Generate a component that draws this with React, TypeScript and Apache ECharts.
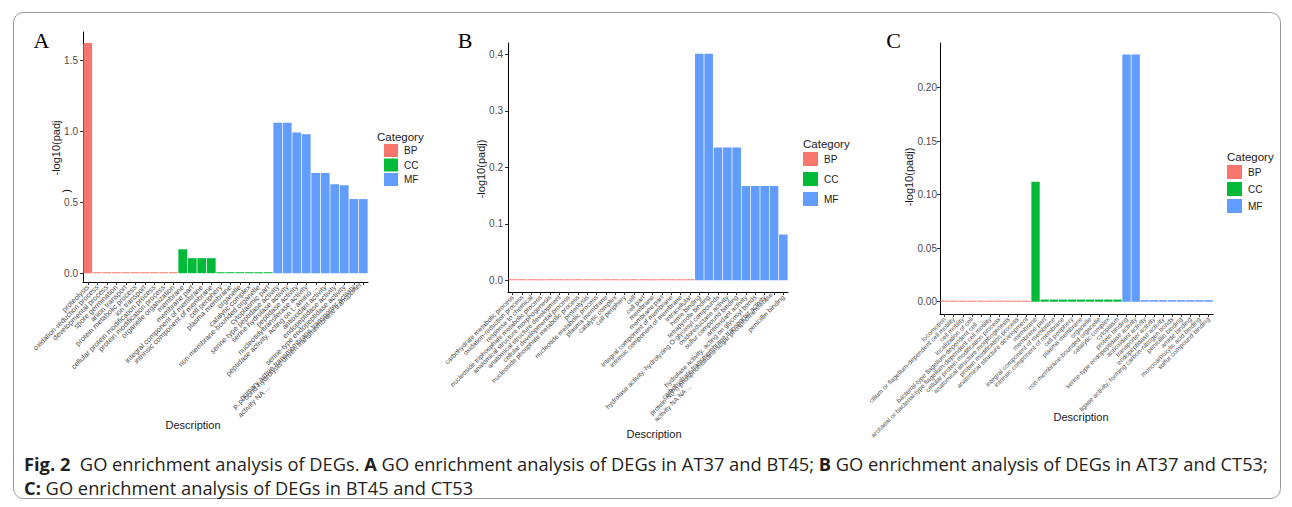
import React, { useEffect, useRef } from "react";
import * as echarts from "echarts";

const COLORS = { BP: "#F8766D", CC: "#00BA38", MF: "#619CFF" };
const GROUP_NAMES = ["BP", "CC", "MF"];

// Panel A
const labelsA = [
  "proteolysis",
  "oxidation-reduction process",
  "developmental process",
  "spore germination",
  "anion transport",
  "protein metabolic process",
  "ion transport",
  "cellular protein modification process",
  "protein modification process",
  "organelle organization",
  "membrane",
  "membrane part",
  "integral component of membrane",
  "intrinsic component of membrane",
  "cell periphery",
  "plasma membrane",
  "organelle",
  "catalytic complex",
  "non-membrane-bounded organelle",
  "cytoplasmic part",
  "serine-type peptidase activity",
  "serine hydrolase activity",
  "peptidase activity",
  "nucleotidyltransferase activity",
  "peptidase activity, acting on L-amino ...",
  "antioxidant activity",
  "endopeptidase activity",
  "serine-type endopeptidase activity",
  "primary active transmembrane transporter activity",
  "P-P-bond-hydrolysis-driven transmembrane transporter\nactivity NA ...",
];
const valuesA = [
  1.624, 0, 0, 0, 0, 0, 0, 0, 0, 0,
  0.169, 0.106, 0.106, 0.106, 0, 0, 0, 0, 0, 0,
  1.061, 1.061, 0.993, 0.981, 0.707, 0.707, 0.627, 0.62, 0.523, 0.523,
];
const groupsA = [
  "BP", "BP", "BP", "BP", "BP", "BP", "BP", "BP", "BP", "BP",
  "CC", "CC", "CC", "CC", "CC", "CC", "CC", "CC", "CC", "CC",
  "MF", "MF", "MF", "MF", "MF", "MF", "MF", "MF", "MF", "MF",
];
const ticksA = [0, 0.5, 1.0, 1.5];

// Panel B
const labelsB = [
  "carbohydrate metabolic process",
  "oxidation-reduction process",
  "response to chemical",
  "nucleoside triphosphate metabolic process",
  "anatomical structure morphogenesis",
  "anatomical structure development",
  "cellular developmental process",
  "nucleoside phosphate metabolic process",
  "proteolysis",
  "nucleotide metabolic process",
  "plasma membrane",
  "catalytic complex",
  "cell periphery",
  "cell",
  "cell part",
  "membrane",
  "membrane part",
  "integral component of membrane",
  "intrinsic component of membrane",
  "intracellular",
  "heme binding",
  "tetrapyrrole binding",
  "hydrolase activity, hydrolyzing O-glycosyl compounds",
  "oxidoreductase activity",
  "sulfur compound binding",
  "antioxidant activity",
  "hydrolase activity, acting on glycosyl bonds",
  "carbohydrate transmembrane transporter activity",
  "protein-N(PI)-phosphohistidine-sugar phosphotransferase\nactivity NA NA ...",
  "penicillin binding",
];
const valuesB = [
  0, 0, 0, 0, 0, 0, 0, 0, 0, 0,
  0, 0, 0, 0, 0, 0, 0, 0, 0, 0,
  0.401, 0.401, 0.235, 0.235, 0.235, 0.167, 0.167, 0.167, 0.167, 0.081,
];
const groupsB = [
  "BP", "BP", "BP", "BP", "BP", "BP", "BP", "BP", "BP", "BP",
  "BP", "BP", "BP", "BP", "BP", "BP", "BP", "BP", "BP", "BP",
  "MF", "MF", "MF", "MF", "MF", "MF", "MF", "MF", "MF", "MF",
];
const ticksB = [0, 0.1, 0.2, 0.3, 0.4];

// Panel C
const labelsC = [
  "locomotion",
  "cilium or flagellum-dependent cell motility",
  "cell motility",
  "localization of cell",
  "bacterial-type flagellum-dependent cell ...",
  "archaeal or bacterial-type flagellum-dependent cell motility",
  "cellular protein modification process",
  "anatomical structure morphogenesis",
  "protein modification process",
  "anatomical structure development",
  "membrane",
  "membrane part",
  "integral component of membrane",
  "intrinsic component of membrane",
  "cell periphery",
  "plasma membrane",
  "organelle",
  "non-membrane-bounded organelle",
  "catalytic complex",
  "cytoplasm",
  "protein binding",
  "serine-type endopeptidase activity",
  "antioxidant activity",
  "transporter activity",
  "endopeptidase activity",
  "ligase activity, forming carbon-nitrogen bonds",
  "penicillin binding",
  "amide binding",
  "monocarboxylic acid binding",
  "sulfur compound binding",
];
const valuesC = [
  0, 0, 0, 0, 0, 0, 0, 0, 0, 0,
  0.112, 0.002, 0.002, 0.002, 0.002, 0.002, 0.002, 0.002, 0.002, 0.002,
  0.231, 0.231, 0.0015, 0.0015, 0.0015, 0.0015, 0.0015, 0.0015, 0.0015, 0.0015,
];
const groupsC = [
  "BP", "BP", "BP", "BP", "BP", "BP", "BP", "BP", "BP", "BP",
  "CC", "CC", "CC", "CC", "CC", "CC", "CC", "CC", "CC", "CC",
  "MF", "MF", "MF", "MF", "MF", "MF", "MF", "MF", "MF", "MF",
];
const ticksC = [0, 0.05, 0.1, 0.15, 0.2];

// Caption (bold flag marks bold pieces)
const captionLine1 = [
  ["Fig. 2", 1], ["  GO enrichment analysis of DEGs. ", 0],
  ["A", 1], [" GO enrichment analysis of DEGs in AT37 and BT45; ", 0],
  ["B", 1], [" GO enrichment analysis of DEGs in AT37 and CT53;", 0],
] as [string, number][];
const captionLine2 = [
  ["C:", 1], [" GO enrichment analysis of DEGs in BT45 and CT53", 0],
] as [string, number][];

const SANS = "Liberation Sans, Arial, sans-serif";
const CAP_FONT = "Open Sans";

export default function App() {
  const ref = useRef<HTMLDivElement>(null);

  useEffect(() => {
    if (!ref.current) return;
    const chart = echarts.init(ref.current, null, { renderer: "svg" });

    const ctx = document.createElement("canvas").getContext("2d") as CanvasRenderingContext2D;
    const measure = (s: string, font: string) => {
      ctx.font = font;
      return ctx.measureText(s).width;
    };

    const panels = [
      { labels: labelsA, values: valuesA, groups: groupsA, ticks: ticksA, dec: 1, fs: 7.3,
        grid: { left: 83, top: 32, width: 285, height: 250 }, min: -0.062, max: 1.702, margin: 5 },
      { labels: labelsB, values: valuesB, groups: groupsB, ticks: ticksB, dec: 1, fs: 6.7,
        grid: { left: 508, top: 43, width: 280, height: 249 }, min: -0.0207, max: 0.42, margin: 5 },
      { labels: labelsC, values: valuesC, groups: groupsC, ticks: ticksC, dec: 2, fs: 6.5,
        grid: { left: 940, top: 43, width: 273, height: 271 }, min: -0.0115, max: 0.2418, margin: 3 },
    ];

    const grid: any[] = [];
    const xAxis: any[] = [];
    const yAxis: any[] = [];
    const series: any[] = [];

    panels.forEach((p, pi) => {
      grid.push({ ...p.grid, containLabel: false });
      let wrapW = 0;
      p.labels.forEach((l) => {
        const parts = l.split("\n");
        if (parts.length > 1) wrapW = Math.max(wrapW, measure(parts[0], `${p.fs}px "Liberation Sans"`));
      });
      xAxis.push({
        type: "category",
        gridIndex: pi,
        data: p.labels,
        boundaryGap: true,
        axisLine: { onZero: false, lineStyle: { color: "#000", width: 1 } },
        axisTick: { show: true, alignWithLabel: true, length: 3, lineStyle: { color: "#333" } },
        axisLabel: {
          interval: 0,
          rotate: 45,
          fontSize: p.fs,
          lineHeight: p.fs + 0.8,
          color: "#4d4d4d",
          fontFamily: SANS,
          margin: 4,
          formatter: (v: string) => {
            const parts = v.split("\n");
            if (parts.length < 2) return v;
            return `${parts[0]}\n{l|${parts[1]}}`;
          },
          rich: {
            l: {
              width: Math.ceil(wrapW) + 1,
              align: "left",
              fontSize: p.fs,
              lineHeight: p.fs + 0.8,
              color: "#4d4d4d",
              fontFamily: SANS,
            },
          },
        },
        splitLine: { show: false },
      });
      yAxis.push({
        type: "value",
        gridIndex: pi,
        min: p.min,
        max: p.max,
        axisLine: { show: true, lineStyle: { color: "#000", width: 1 } },
        axisTick: { show: true, length: 3, lineStyle: { color: "#333" }, customValues: p.ticks },
        axisLabel: {
          customValues: p.ticks,
          formatter: (v: number) => v.toFixed(p.dec),
          fontSize: 10,
          color: "#4d4d4d",
          fontFamily: SANS,
          margin: p.margin,
        },
        splitLine: { show: false },
      });
      GROUP_NAMES.forEach((g) => {
        series.push({
          name: g,
          type: "bar",
          xAxisIndex: pi,
          yAxisIndex: pi,
          data: p.values.map((v, i) => (p.groups[i] === g ? v : "-")),
          barGap: "-100%",
          barCategoryGap: "8%",
          barMinHeight: 1,
          itemStyle: { color: (COLORS as any)[g] },
          emphasis: { disabled: true },
        });
      });
    });

    const legendBase = {
      orient: "vertical",
      data: GROUP_NAMES,
      icon: "rect",
      padding: 0,
      selectedMode: false,
      textStyle: { fontSize: 10, color: "#1a1a1a", fontFamily: SANS, padding: [0, 0, 0, 1] },
    };
    const legend = [
      { ...legendBase, left: 384, top: 144, itemWidth: 14, itemHeight: 13, itemGap: 1.5 },
      { ...legendBase, left: 803, top: 152, itemWidth: 15, itemHeight: 14, itemGap: 6 },
      { ...legendBase, left: 1227, top: 165, itemWidth: 15, itemHeight: 14, itemGap: 3 },
    ];

    const txt = (x: number, y: number, text: string, extra: any = {}, rotation = 0) => ({
      type: "text",
      x,
      y,
      rotation,
      style: {
        text,
        fontFamily: SANS,
        fontSize: 11,
        fill: "#1a1a1a",
        align: "center",
        verticalAlign: "middle",
        ...extra,
      },
    });
    const serif = { fontFamily: "Liberation Serif, DejaVu Serif, serif", fontSize: 22, fill: "#000" };

    // caption: font size fitted so the first line spans the frame
    const base = 15;
    const capFont = (b: number, s: number) => `${b ? "bold " : ""}${s}px "${CAP_FONT}"`;
    const natural = captionLine1.reduce((a, [t, b]) => a + measure(t, capFont(b, base)), 0);
    const capSize = Math.round((base * (1268 - 24)) / natural * 10) / 10;
    const capFamily = `${CAP_FONT}, Liberation Sans, sans-serif`;
    const toRich = (line: [string, number][]) => line.map(([t, b]) => (b ? `{b|${t}}` : t)).join("");
    const capText = (y: number, line: [string, number][]) => ({
      type: "text",
      x: 24,
      y,
      style: {
        text: toRich(line),
        fontFamily: capFamily,
        fontSize: capSize,
        fill: "#231f20",
        verticalAlign: "middle",
        rich: { b: { fontWeight: "bold", fontFamily: capFamily, fontSize: capSize, fill: "#231f20" } },
      },
    });

    const graphic: any[] = [
      {
        type: "rect",
        shape: { x: 13.5, y: 12.5, width: 1267, height: 486, r: 10 },
        style: { fill: "none", stroke: "#9a9a9a", lineWidth: 1 },
        silent: true,
      },
      txt(41.5, 40, "A", serif),
      txt(465, 40.5, "B", serif),
      txt(893.5, 40, "C", serif),
      txt(56, 148, "-log10(padj", {}, Math.PI / 2),
      txt(65.5, 191, ")", {}, Math.PI / 2),
      txt(480.5, 169, "-log10(padj)", {}, Math.PI / 2),
      txt(909, 177, "-log10(padj)", {}, Math.PI / 2),
      txt(193, 425, "Description"),
      txt(654, 434, "Description"),
      txt(1081, 417, "Description"),
      txt(377, 137, "Category", { align: "left", fontSize: 11.5 }),
      txt(803, 144, "Category", { align: "left", fontSize: 11.5 }),
      txt(1227, 157, "Category", { align: "left", fontSize: 11.5 }),
      capText(463, captionLine1),
      capText(487, captionLine2),
    ];

    chart.setOption({
      animation: false,
      backgroundColor: "#fff",
      grid,
      xAxis,
      yAxis,
      series,
      legend,
      graphic,
    });

    return () => chart.dispose();
  }, []);

  return (
    <div
      ref={ref}
      style={{ position: "absolute", left: 0, top: 0, width: 1292, height: 507 }}
    />
  );
}
